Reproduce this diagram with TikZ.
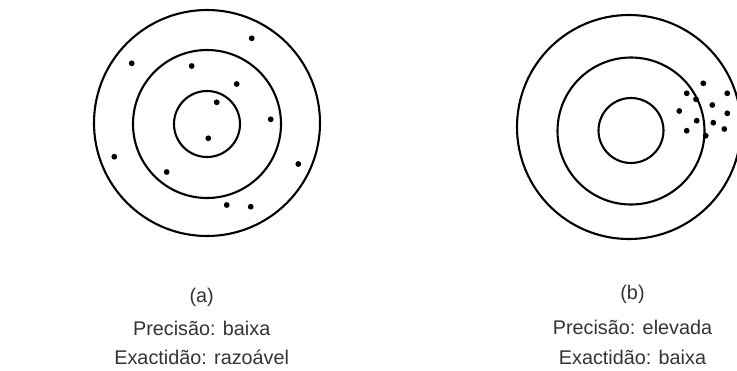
\documentclass[tikz,border=0pt]{standalone}
\usepackage{fontspec}
\setmainfont{Liberation Sans}

\begin{document}
\begin{tikzpicture}[x=1pt, y=-1pt]
        \useasboundingbox (0,0) rectangle (737,370);
        \clip (0,0) rectangle (737,370);
        \tikzset{ring/.style={circle, draw, line width=2.1pt, inner sep=0pt},
                 caption/.style={font=\fontsize{19.8}{23}\selectfont, text=black!80}}

        % Draw target (a)
        \node[ring, minimum size=226pt] (a1) at (207,123) {};
        \node[ring, minimum size=148pt] (a2) at (207,124) {};
        \node[ring, minimum size=66pt] (a3) at (207,124) {};

        % Draw target (b)
        \node[ring, minimum size=224pt] (b1) at (629,127) {};
        \node[ring, minimum size=147pt] (b2) at (631,131) {};
        \node[ring, minimum size=65pt] (b3) at (631,130.5) {};

        % Draw hits
        \foreach \x/\y in {251.7/38.3, 131.7/63.3, 191.7/66, 236.7/84, 216.7/102.3, 270.7/119.3,
                           208.3/138.3, 114.3/156.7, 298.3/164, 166.7/172, 226.7/205, 250.7/206.7}
            \fill (\x,\y) circle (2.9);
        \foreach \x/\y in {703.3/83.3, 686.7/93.3, 727.3/93.3, 696/99.3, 712.3/105, 679.3/111,
                           727.3/113.3, 696.7/120.7, 713.3/122.7, 686.7/130.7, 724.3/129, 705.7/135.7}
            \fill (\x,\y) circle (2.9);

        % Labels
        \node[caption] (la) at (201.7,297) {(a)};
        \node[caption] (pa) at (201.7,328.5) {Precisão: baixa};
        \node[caption] (ea) at (201.7,357.5) {Exactidão: razoável};
        \node[caption] (lb) at (632.5,294) {(b)};
        \node[caption] (pb) at (632.5,327) {Precisão: elevada};
        \node[caption] (eb) at (632.5,357) {Exactidão: baixa};
    \end{tikzpicture}
\end{document}
